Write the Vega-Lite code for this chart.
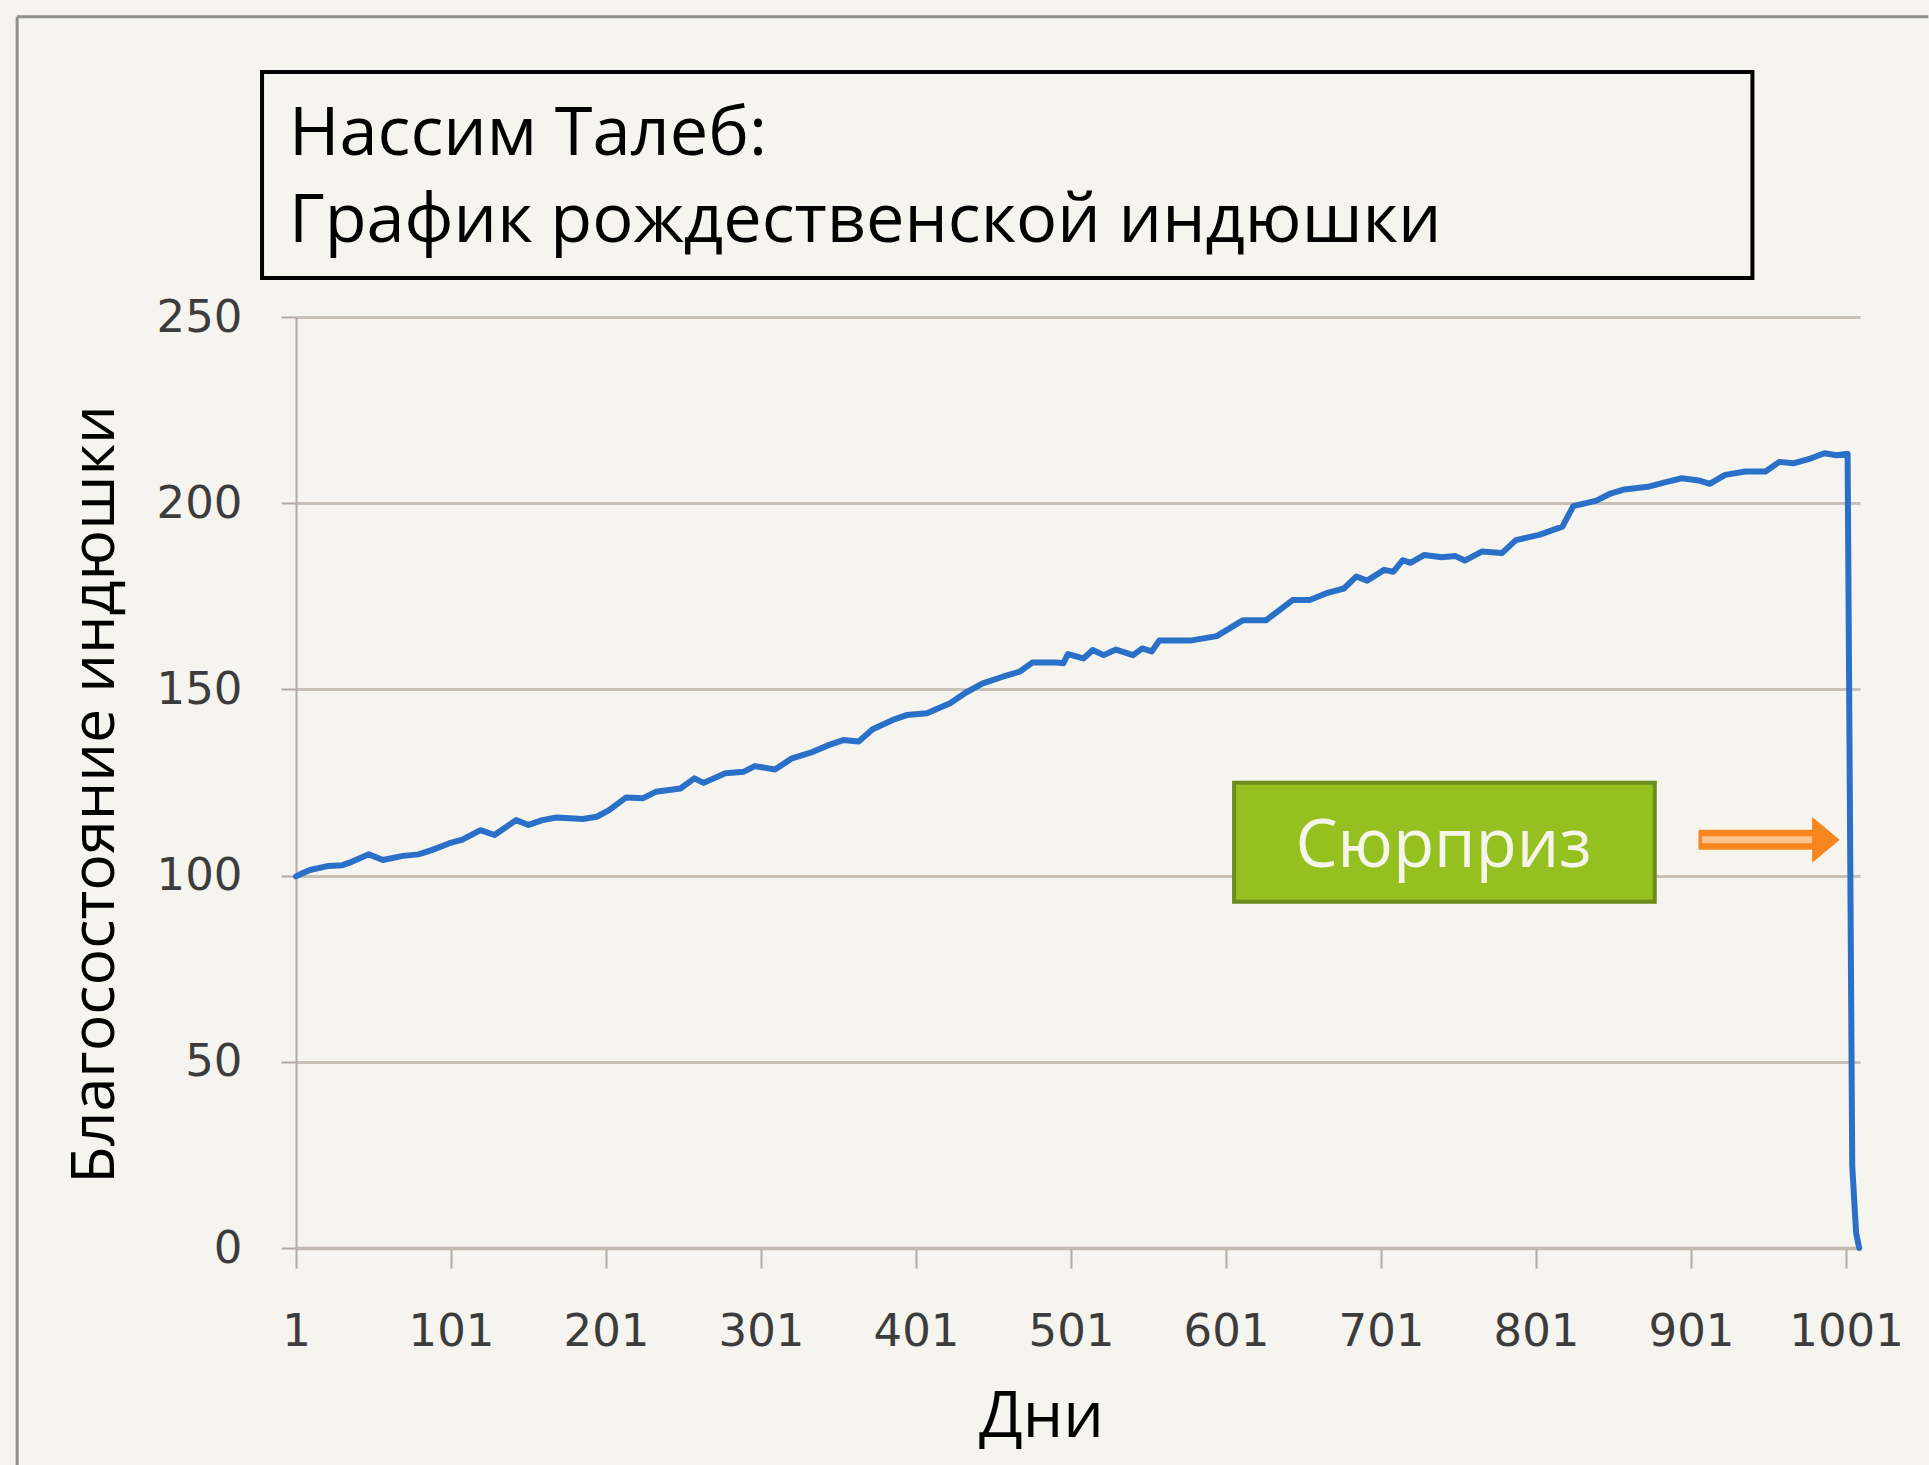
{
  "$schema": "https://vega.github.io/schema/vega-lite/v6.json",
  "autosize": {"type": "none"},
  "padding": {"left": 296, "top": 317, "right": 69, "bottom": 217},
  "width": 1564,
  "height": 931,
  "background": "#f5f4ee",
  "view": {"stroke": null},
  "datasets": {
    "turkey": [
      {"day": 1, "wealth": 99.8},
      {"day": 3, "wealth": 100.2},
      {"day": 10, "wealth": 101.5},
      {"day": 22, "wealth": 102.6},
      {"day": 31, "wealth": 102.8},
      {"day": 37, "wealth": 103.7},
      {"day": 48, "wealth": 105.7},
      {"day": 57, "wealth": 104.2},
      {"day": 70, "wealth": 105.3},
      {"day": 80, "wealth": 105.7},
      {"day": 89, "wealth": 106.9},
      {"day": 100, "wealth": 108.7},
      {"day": 108, "wealth": 109.6},
      {"day": 120, "wealth": 112.2},
      {"day": 129, "wealth": 110.9},
      {"day": 143, "wealth": 114.9},
      {"day": 151, "wealth": 113.6},
      {"day": 160, "wealth": 114.9},
      {"day": 169, "wealth": 115.6},
      {"day": 186, "wealth": 115.2},
      {"day": 195, "wealth": 115.8},
      {"day": 203, "wealth": 117.6},
      {"day": 214, "wealth": 121.0},
      {"day": 225, "wealth": 120.8},
      {"day": 233, "wealth": 122.5},
      {"day": 249, "wealth": 123.4},
      {"day": 258, "wealth": 126.1},
      {"day": 264, "wealth": 124.9},
      {"day": 278, "wealth": 127.5},
      {"day": 290, "wealth": 127.9},
      {"day": 297, "wealth": 129.4},
      {"day": 310, "wealth": 128.5},
      {"day": 321, "wealth": 131.5},
      {"day": 333, "wealth": 133.0},
      {"day": 345, "wealth": 135.1},
      {"day": 354, "wealth": 136.4},
      {"day": 364, "wealth": 136.0},
      {"day": 373, "wealth": 139.3},
      {"day": 386, "wealth": 141.8},
      {"day": 395, "wealth": 143.1},
      {"day": 408, "wealth": 143.6},
      {"day": 423, "wealth": 146.3},
      {"day": 433, "wealth": 149.1},
      {"day": 444, "wealth": 151.6},
      {"day": 457, "wealth": 153.4},
      {"day": 468, "wealth": 154.8},
      {"day": 476, "wealth": 157.2},
      {"day": 492, "wealth": 157.2},
      {"day": 496, "wealth": 157.0},
      {"day": 499, "wealth": 159.5},
      {"day": 509, "wealth": 158.3},
      {"day": 515, "wealth": 160.6},
      {"day": 522, "wealth": 159.2},
      {"day": 530, "wealth": 160.7},
      {"day": 541, "wealth": 159.2},
      {"day": 547, "wealth": 161.0},
      {"day": 553, "wealth": 160.2},
      {"day": 558, "wealth": 163.1},
      {"day": 578, "wealth": 163.1},
      {"day": 595, "wealth": 164.3},
      {"day": 612, "wealth": 168.6},
      {"day": 627, "wealth": 168.6},
      {"day": 644, "wealth": 174.0},
      {"day": 655, "wealth": 174.0},
      {"day": 667, "wealth": 176.0},
      {"day": 677, "wealth": 177.1},
      {"day": 685, "wealth": 180.3},
      {"day": 692, "wealth": 179.2},
      {"day": 703, "wealth": 182.1},
      {"day": 709, "wealth": 181.6},
      {"day": 715, "wealth": 184.7},
      {"day": 720, "wealth": 184.0},
      {"day": 729, "wealth": 186.1},
      {"day": 740, "wealth": 185.5},
      {"day": 749, "wealth": 185.8},
      {"day": 755, "wealth": 184.6},
      {"day": 766, "wealth": 187.0},
      {"day": 779, "wealth": 186.6},
      {"day": 788, "wealth": 190.1},
      {"day": 803, "wealth": 191.5},
      {"day": 818, "wealth": 193.7},
      {"day": 825, "wealth": 199.2},
      {"day": 840, "wealth": 200.7},
      {"day": 849, "wealth": 202.6},
      {"day": 858, "wealth": 203.7},
      {"day": 873, "wealth": 204.4},
      {"day": 886, "wealth": 205.8},
      {"day": 895, "wealth": 206.7},
      {"day": 906, "wealth": 206.1},
      {"day": 913, "wealth": 205.2},
      {"day": 923, "wealth": 207.6},
      {"day": 936, "wealth": 208.5},
      {"day": 949, "wealth": 208.5},
      {"day": 958, "wealth": 211.1},
      {"day": 967, "wealth": 210.7},
      {"day": 978, "wealth": 212.0},
      {"day": 987, "wealth": 213.4},
      {"day": 995, "wealth": 212.9},
      {"day": 1002, "wealth": 213.3},
      {"day": 1005, "wealth": 22},
      {"day": 1007.5, "wealth": 4},
      {"day": 1009.5, "wealth": 0}
    ],
    "one": [{}]
  },
  "layer": [
    {
      "data": {"name": "turkey"},
      "mark": {"type": "line", "color": "#2a70c8", "strokeWidth": 6, "strokeJoin": "round", "strokeCap": "round"},
      "encoding": {
        "x": {
          "field": "day", "type": "quantitative",
          "scale": {"domain": [1, 1010], "nice": false, "zero": false},
          "axis": {
            "values": [1, 101, 201, 301, 401, 501, 601, 701, 801, 901, 1001],
            "format": "d",
            "title": "Дни",
            "titleFont": "Open Sans", "titleFontSize": 64, "titleFontWeight": "normal", "titleColor": "#000000",
            "titlePadding": 31, "titleX": 745,
            "labelFont": "DejaVu Sans", "labelFontSize": 45, "labelColor": "#3c3c3c",
            "labelPadding": 41, "labelFlush": false, "labelOverlap": false,
            "tickSize": 20, "tickWidth": 2, "tickColor": "#b3aba4",
            "domain": true, "domainColor": "#c2b9b1", "domainWidth": 3.5,
            "grid": false
          }
        },
        "y": {
          "field": "wealth", "type": "quantitative",
          "scale": {"domain": [0, 250], "nice": false, "zero": true},
          "axis": {
            "values": [0, 50, 100, 150, 200, 250],
            "title": "Благосостояние индюшки",
            "titleFont": "Open Sans", "titleFontSize": 61, "titleFontWeight": "normal", "titleColor": "#000000",
            "titlePadding": 30, "titleY": 477,
            "labelFont": "DejaVu Sans", "labelFontSize": 45, "labelColor": "#3c3c3c",
            "labelPadding": 39, "labelOverlap": false,
            "tickSize": 15, "tickWidth": 2, "tickColor": "#b3aba4",
            "domain": true, "domainColor": "#b3aba4", "domainWidth": 2,
            "grid": true, "gridColor": "#c9c0b8", "gridWidth": 3
          }
        }
      }
    },
    {
      "data": {"name": "one"},
      "mark": {"type": "rule", "stroke": "#8e8e8a", "strokeWidth": 3},
      "encoding": {
        "x": {"datum": -178.9, "type": "quantitative"},
        "x2": {"datum": 1054.1},
        "y": {"datum": 330.6, "type": "quantitative"}
      }
    },
    {
      "data": {"name": "one"},
      "mark": {"type": "rule", "stroke": "#8e8e8a", "strokeWidth": 3},
      "encoding": {
        "x": {"datum": -178.9, "type": "quantitative"},
        "y": {"datum": 330.6, "type": "quantitative"},
        "y2": {"datum": -58.3}
      }
    },
    {
      "data": {"name": "one"},
      "mark": {"type": "rect", "fill": "#f5f4ee", "stroke": "#000000", "strokeWidth": 4},
      "encoding": {
        "x": {"datum": -20.9, "type": "quantitative"},
        "x2": {"datum": 940.6},
        "y": {"datum": 315.8, "type": "quantitative"},
        "y2": {"datum": 260.5}
      }
    },
    {
      "data": {"name": "one"},
      "mark": {"type": "text", "font": "Open Sans", "fontSize": 68.5, "color": "#000000", "align": "left", "baseline": "alphabetic"},
      "encoding": {
        "x": {"datum": -3.5, "type": "quantitative"},
        "y": {"datum": 293.5, "type": "quantitative"},
        "text": {"value": "Нассим Талеб:"}
      }
    },
    {
      "data": {"name": "one"},
      "mark": {"type": "text", "font": "Open Sans", "fontSize": 68.5, "color": "#000000", "align": "left", "baseline": "alphabetic"},
      "encoding": {
        "x": {"datum": -3.5, "type": "quantitative"},
        "y": {"datum": 270.2, "type": "quantitative"},
        "text": {"value": "График рождественской индюшки"}
      }
    },
    {
      "data": {"name": "one"},
      "mark": {"type": "rect", "fill": "#94c120", "stroke": "#6a8c1c", "strokeWidth": 4},
      "encoding": {
        "x": {"datum": 606.2, "type": "quantitative"},
        "x2": {"datum": 877.6},
        "y": {"datum": 124.9, "type": "quantitative"},
        "y2": {"datum": 93.0}
      }
    },
    {
      "data": {"name": "one"},
      "mark": {"type": "text", "font": "Open Sans", "fontSize": 67, "color": "#f6f5ea", "align": "center", "baseline": "alphabetic"},
      "encoding": {
        "x": {"datum": 741.3, "type": "quantitative"},
        "y": {"datum": 102.4, "type": "quantitative"},
        "text": {"value": "Сюрприз"}
      }
    },
    {
      "data": {"name": "one"},
      "mark": {"type": "rule", "stroke": "#f7861f", "strokeWidth": 20, "strokeCap": "butt"},
      "encoding": {
        "x": {"datum": 905.8, "type": "quantitative"},
        "x2": {"datum": 982},
        "y": {"datum": 109.6, "type": "quantitative"}
      }
    },
    {
      "data": {"name": "one"},
      "mark": {"type": "rule", "stroke": "#fbc48f", "strokeWidth": 7, "strokeCap": "butt"},
      "encoding": {
        "x": {"datum": 908, "type": "quantitative"},
        "x2": {"datum": 982},
        "y": {"datum": 109.6, "type": "quantitative"}
      }
    },
    {
      "data": {"name": "one"},
      "mark": {"type": "point", "shape": "M-0.6,-1L0.6,0L-0.6,1Z", "size": 1936, "filled": true, "fill": "#f7861f", "stroke": "#f7861f", "strokeWidth": 1, "opacity": 1},
      "encoding": {
        "x": {"datum": 988.0, "type": "quantitative"},
        "y": {"datum": 109.6, "type": "quantitative"}
      }
    }
  ]
}
